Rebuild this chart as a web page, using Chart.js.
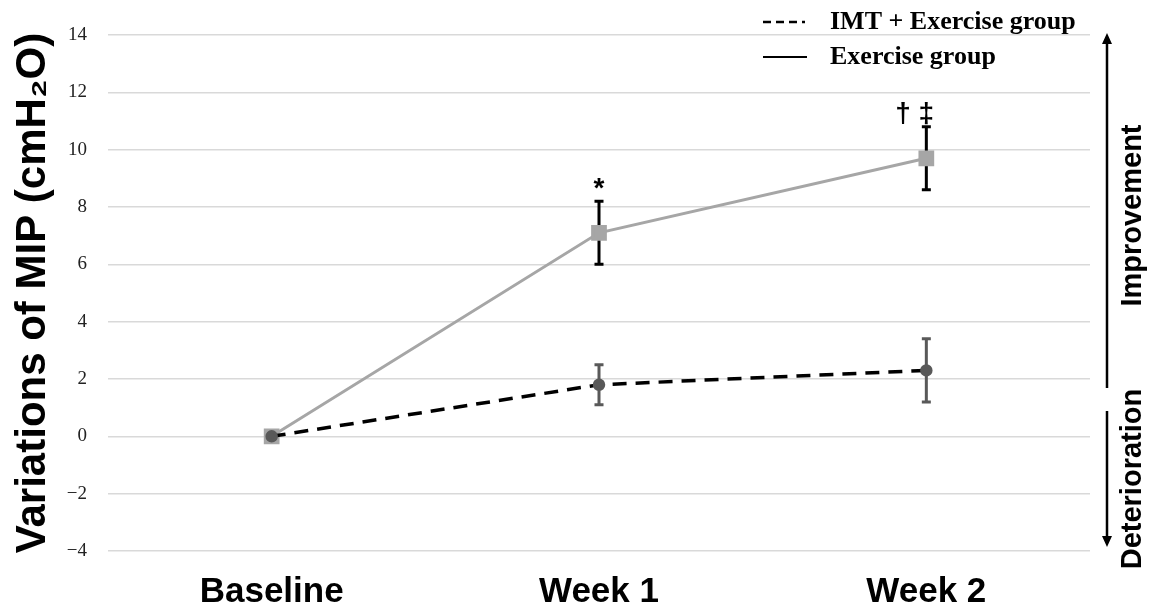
<!DOCTYPE html>
<html>
<head>
<meta charset="utf-8">
<script src="https://cdn.jsdelivr.net/npm/chart.js@4/dist/chart.umd.min.js"></script>
<style>
  html, body { margin: 0; padding: 0; background: #fff; }
  #wrap { width: 1150px; height: 607px; }
</style>
</head>
<body>
<div id="wrap"><canvas id="mipChart"></canvas></div>
<script>
const categories = ['Baseline', 'Week 1', 'Week 2'];

const imtMean = [0, 1.8, 2.3];
const imtSd = [0, 0.7, 1.1];

const exerciseMean = [0, 7.1, 9.7];
const exerciseSd = [0, 1.1, 1.1];
const exerciseMarks = ['', '*', '† ‡'];

const yMin = -4;
const yMax = 14;
const yStep = 2;

const legendLabels = ['IMT + Exercise group', 'Exercise group'];
const sideLabels = ['Improvement', 'Deterioration'];

// error bars drawn under the markers
const errorBars = {
  id: 'errorBars',
  beforeDatasetsDraw(chart) {
    const { ctx } = chart;
    const x = chart.scales.x;
    const y = chart.scales.y;
    const sets = [
      { mean: exerciseMean, sd: exerciseSd, color: '#000' },
      { mean: imtMean, sd: imtSd, color: '#595959' }
    ];
    ctx.save();
    sets.forEach(s => {
      ctx.strokeStyle = s.color;
      ctx.lineWidth = 3;
      s.mean.forEach((m, i) => {
        if (!s.sd[i]) return;
        const px = x.getPixelForValue(i);
        const top = y.getPixelForValue(m + s.sd[i]);
        const bot = y.getPixelForValue(m - s.sd[i]);
        ctx.beginPath();
        ctx.moveTo(px, top); ctx.lineTo(px, bot);
        ctx.moveTo(px - 4.5, top); ctx.lineTo(px + 4.5, top);
        ctx.moveTo(px - 4.5, bot); ctx.lineTo(px + 4.5, bot);
        ctx.stroke();
      });
    });
    ctx.restore();
  }
};

const decorations = {
  id: 'decorations',
  afterDraw(chart) {
    const { ctx, chartArea } = chart;
    const x = chart.scales.x;
    const y = chart.scales.y;
    ctx.save();

    // significance marks
    ctx.fillStyle = '#000';
    ctx.font = 'bold 28px "Liberation Sans", Arial, sans-serif';
    ctx.textAlign = 'right';
    ctx.textBaseline = 'middle';
    exerciseMarks.forEach((mark, i) => {
      if (!mark) return;
      const last = ctx.measureText(mark.slice(-1)).width;
      const px = x.getPixelForValue(i) + last / 2;
      const py = y.getPixelForValue(exerciseMean[i] + exerciseSd[i]) - 12;
      ctx.fillText(mark, px, py);
    });

    // legend
    ctx.strokeStyle = '#000';
    ctx.lineWidth = 2.5;
    ctx.setLineDash([8, 5]);
    ctx.beginPath(); ctx.moveTo(763, 22); ctx.lineTo(805, 22); ctx.stroke();
    ctx.setLineDash([]);
    ctx.lineWidth = 2;
    ctx.beginPath(); ctx.moveTo(763, 57); ctx.lineTo(807, 57); ctx.stroke();
    ctx.font = 'bold 26px "Liberation Serif", "Times New Roman", serif';
    ctx.textAlign = 'left';
    ctx.fillText(legendLabels[0], 830, 22);
    ctx.fillText(legendLabels[1], 830, 57);

    // improvement / deterioration arrows
    const ax = chartArea.right + 17;
    const split = y.getPixelForValue(1.3);
    const upTip = chartArea.top - 2;
    const downTip = chartArea.bottom - 4;
    const upEnd = split - 11;
    const downStart = split + 12;
    ctx.lineWidth = 2.5;
    ctx.beginPath();
    ctx.moveTo(ax, upEnd); ctx.lineTo(ax, upTip + 8);
    ctx.moveTo(ax, downStart); ctx.lineTo(ax, downTip - 8);
    ctx.stroke();
    ctx.beginPath();
    ctx.moveTo(ax, upTip); ctx.lineTo(ax - 5, upTip + 11); ctx.lineTo(ax + 5, upTip + 11); ctx.closePath();
    ctx.moveTo(ax, downTip); ctx.lineTo(ax - 5, downTip - 11); ctx.lineTo(ax + 5, downTip - 11); ctx.closePath();
    ctx.fill();

    ctx.font = 'bold 29px "Liberation Sans", Arial, sans-serif';
    ctx.textAlign = 'center';
    ctx.textBaseline = 'middle';
    const tx = chartArea.right + 43;
    [[sideLabels[0], (upTip + upEnd) / 2 + 5], [sideLabels[1], (downStart + downTip) / 2]].forEach(([t, cy]) => {
      ctx.save();
      ctx.translate(tx, cy);
      ctx.rotate(-Math.PI / 2);
      ctx.fillText(t, 0, 0);
      ctx.restore();
    });

    ctx.restore();
  }
};

const config = {
  type: 'line',
  data: {
    labels: categories,
    datasets: [
      {
        label: legendLabels[0],
        data: imtMean,
        borderColor: '#000',
        borderWidth: 3.5,
        borderDash: [14, 9],
        pointStyle: 'circle',
        pointRadius: 4.5,
        pointBackgroundColor: '#595959',
        pointBorderColor: '#595959',
        order: 0
      },
      {
        label: legendLabels[1],
        data: exerciseMean,
        borderColor: '#a6a6a6',
        borderWidth: 3,
        pointStyle: 'rect',
        pointRadius: 9,
        pointBackgroundColor: '#a6a6a6',
        pointBorderColor: '#a6a6a6',
        order: 1
      }
    ]
  },
  options: {
    responsive: true,
    maintainAspectRatio: false,
    animation: false,
    layout: { padding: { top: 35, right: 60, left: 0, bottom: 0 } },
    plugins: {
      legend: { display: false },
      tooltip: { enabled: false }
    },
    scales: {
      x: {
        offset: true,
        grid: { display: false },
        border: { display: false },
        ticks: {
          color: '#000',
          padding: 12,
          font: { family: '"Liberation Sans", Arial, sans-serif', size: 35, weight: 'bold' }
        },
        afterFit: (scale) => { scale.height = 56; }
      },
      y: {
        min: yMin,
        max: yMax,
        grid: { color: '#d9d9d9', lineWidth: 1.5, drawTicks: false },
        border: { display: false },
        ticks: {
          stepSize: yStep,
          padding: 21,
          color: '#222',
          font: { family: '"Liberation Serif", "Times New Roman", serif', size: 19 },
          callback: (v) => String(v).replace('-', '\u2212')
        },
        title: {
          display: true,
          text: 'Variations of MIP (cmH\u2082O)',
          color: '#000',
          padding: { top: 8, bottom: 0 },
          font: { family: '"Liberation Sans", Arial, sans-serif', size: 42, weight: 'bold' }
        },
        afterFit: (scale) => { scale.width = 108; }
      }
    }
  },
  plugins: [errorBars, decorations]
};

new Chart(document.getElementById('mipChart'), config);
</script>
</body>
</html>
